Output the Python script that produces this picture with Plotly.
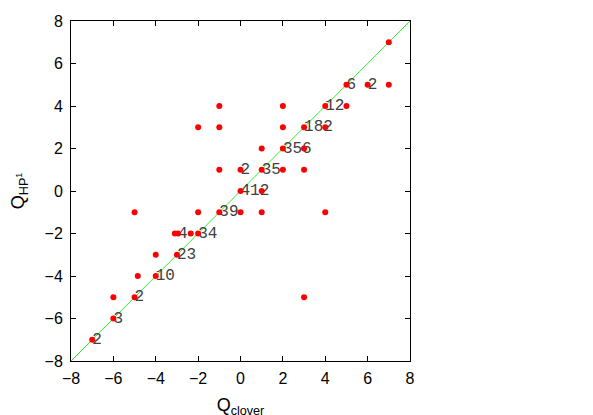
import plotly.graph_objects as go

# All points (Q_clover, Q_HP1)
pt_x = [7, 5, 6, 7, -1, 2, 4, 5, -2, -1, 2, 3, 4, 1, 2, 3, -1, 0, 1, 2, 3, 0, 1,
        -5, -2, -1, 0, 1, 4, -3.1, -2.95, -2.35, -2, -4, -3, -4.85, -4, -6, -5, 3, -6, -7]
pt_y = [7, 5, 5, 5, 4, 4, 4, 4, 3, 3, 3, 3, 3, 2, 2, 2, 1, 1, 1, 1, 1, 0, 0,
        -1, -1, -1, -1, -1, -1, -2, -2, -2, -2, -3, -3, -4, -4, -5, -5, -5, -6, -7]

# Count labels
lab_x = [5, 6, 4, 3, 2, 0, 1, 0, -1, -2.95, -2, -3, -4, -5, -6, -7]
lab_y = [5, 5, 4, 3, 2, 1, 1, 0, -1, -2, -2, -3, -4, -5, -6, -7]
lab_t = ["6", "2", "12", "182", "356", "2", "35", "412", "39", "4", "34", "23", "10", "2", "3", "2"]

diag = [-8, 8]
ticks = [-8, -6, -4, -2, 0, 2, 4, 6, 8]

fig = go.Figure()
fig.add_trace(go.Scatter(x=diag, y=diag, mode="lines",
                         line=dict(color="#33ee33", width=1), hoverinfo="skip"))
fig.add_trace(go.Scatter(x=lab_x, y=lab_y, mode="text", text=lab_t,
                         textposition="middle right",
                         textfont=dict(family="Liberation Mono", size=16, color="#404040")))
fig.add_trace(go.Scatter(x=pt_x, y=pt_y, mode="markers",
                         marker=dict(color="#ff0000", size=6)))

axis_common = dict(range=[-8, 8], tickvals=ticks, ticks="inside", ticklen=5,
                   tickcolor="black", showline=True, linecolor="black", linewidth=1,
                   mirror="allticks", showgrid=False, zeroline=False, automargin=False,
                   tickfont=dict(family="Liberation Sans", size=16, color="black"))

fig.update_layout(
    width=593, height=415,
    margin=dict(l=63, r=191, t=13, b=62),
    paper_bgcolor="white", plot_bgcolor="white",
    showlegend=False,
    xaxis=dict(title=dict(text="Q<sub>clover</sub>", standoff=12,
                          font=dict(family="Liberation Sans", size=18, color="black")),
               ticklabelstandoff=3, **axis_common),
    yaxis=dict(title=dict(text="Q<sub>HP<sup>1</sup></sub>", standoff=17,
                          font=dict(family="Liberation Sans", size=18, color="black")),
               ticklabelstandoff=4, **axis_common),
)

fig.write_html("out.html")
